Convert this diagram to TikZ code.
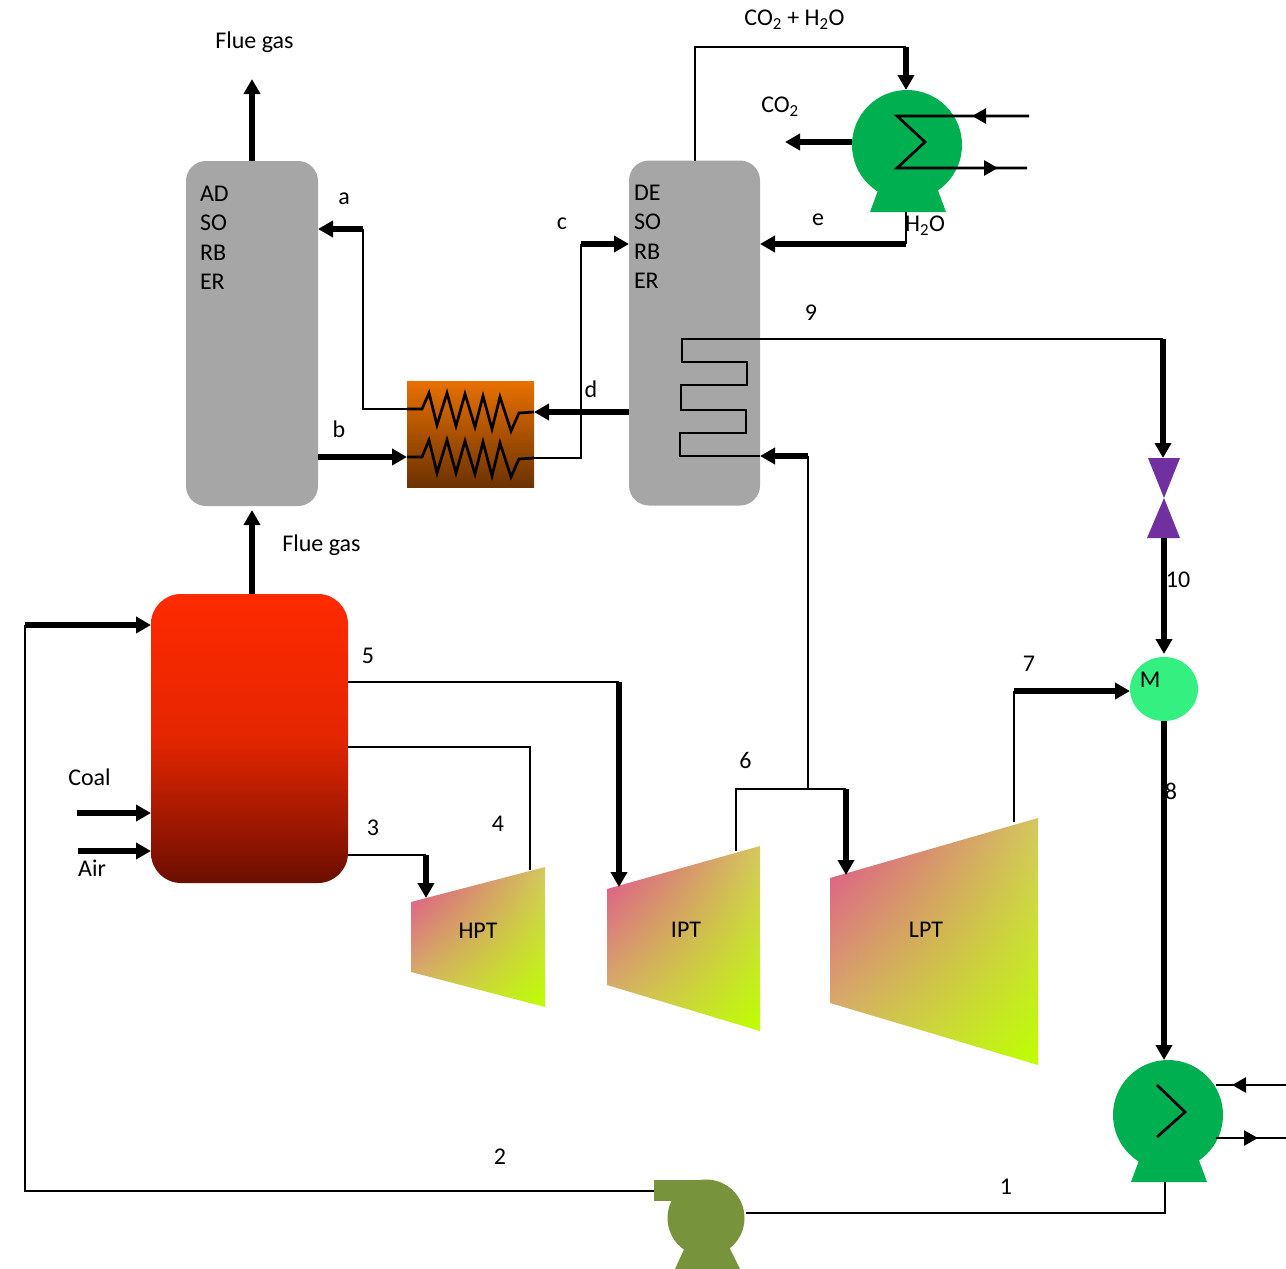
\documentclass[tikz,border=0pt]{standalone}
\usepackage{fontspec}
\setmainfont{Carlito}
\usepackage{xcolor}
\usetikzlibrary{shapes.geometric, arrows.meta, positioning, shadings}
\definecolor{vessel}{RGB}{166,166,166}
\definecolor{exgreen}{RGB}{0,176,80}
\definecolor{pumpolive}{RGB}{119,147,60}
\definecolor{valvepurple}{RGB}{112,48,160}
\definecolor{mixgreen}{RGB}{51,240,128}
\definecolor{firered}{RGB}{255,42,0}
\definecolor{firemid}{RGB}{228,38,0}
\definecolor{firedark}{RGB}{108,14,0}
\definecolor{hxtop}{RGB}{232,112,0}
\definecolor{hxbot}{RGB}{108,50,0}
\definecolor{tpink}{RGB}{224,72,145}
\definecolor{tmid}{RGB}{212,200,95}
\definecolor{tlime}{RGB}{190,255,0}
\tikzset{
    vesselbox/.style={rectangle, rounded corners=20pt, minimum width=132pt, minimum height=345pt, inner sep=0pt, outer sep=0pt, fill=vessel},
    lbl/.style={inner sep=0pt, outer sep=0pt, font=\fontsize{24}{29.5}\selectfont, align=left},
    flow/.style={line width=2.7pt},
    main/.style={-{Triangle[length=15pt,width=16pt]}, line width=5.4pt},
    tip/.style={-{Triangle[length=14pt,width=15pt]}, line width=2.7pt},
    coil/.style={line width=2.7pt, line join=miter},
    turbine/.style={upper left=tpink, lower right=tlime, upper right=tmid, lower left=tmid}
}
\begin{document}
\begin{tikzpicture}[x=1pt,y=-1pt]
    \useasboundingbox (0,0) rectangle (1286,1269);
    % Vessels
    \node[vesselbox] (adsorber) at (252,333.5) {};
    \node[vesselbox, minimum width=131pt] (desorber) at (694.5,333) {};
    \node[lbl, anchor=north west] (adlabel) at (200,186) {AD\\SO\\RB\\ER};
    \node[lbl, anchor=north west] (delabel) at (634,185) {DE\\SO\\RB\\ER};
    % Boiler
    \node[rectangle, rounded corners=30pt, minimum width=197pt, minimum height=289pt, inner sep=0pt, outer sep=0pt, top color=firered, bottom color=firedark, middle color=firemid] (boiler) at (249.5,738.5) {};
    % Heat exchanger
    \node[rectangle, minimum width=127pt, minimum height=106pt, inner sep=0pt, outer sep=0pt, top color=hxtop, bottom color=hxbot] (hx) at (470.5,434) {};
    \draw[coil] (407,409) -- (422,409) -- (429,393) -- (437,425) -- (447,393) -- (456,426) -- (465,394) -- (475,427) -- (483,396) -- (492,429) -- (500,397) -- (511,431) -- (519,413) -- (534,412);
    \draw[coil] (407,457) -- (422,457) -- (429,440) -- (437,473) -- (447,440) -- (456,473) -- (465,441) -- (475,474) -- (483,442) -- (492,476) -- (500,443) -- (511,477) -- (519,459) -- (534,458);
    % Turbines
    \shade[turbine] (411,902) -- (545,867) -- (545,1007) -- (411,972) -- cycle;
    \shade[turbine] (607,889) -- (760,846) -- (760,1031) -- (607,985) -- cycle;
    \shade[turbine] (830,878) -- (1038,818) -- (1038,1065) -- (830,1003) -- cycle;
    \node[lbl] (hpt) at (478,931) {HPT};
    \node[lbl] (ipt) at (686,930) {IPT};
    \node[lbl] (lpt) at (926,930) {LPT};
    % Condenser
    \fill[exgreen] (880,185) -- (870,212) -- (946,212) -- (936,185) -- cycle;
    \node[circle, minimum size=110pt, inner sep=0pt, outer sep=0pt, fill=exgreen] (condenser) at (907,145) {};
    % Feed heater
    \fill[exgreen] (1141,1155) -- (1131,1182) -- (1207,1182) -- (1197,1155) -- cycle;
    \node[circle, minimum size=110pt, inner sep=0pt, outer sep=0pt, fill=exgreen] (heater) at (1168,1115) {};
    % Pump
    \fill[pumpolive] (686,1245) -- (675,1269) -- (740,1269) -- (728,1245) -- cycle;
    \node[circle, minimum size=77pt, inner sep=0pt, outer sep=0pt, fill=pumpolive] (pump) at (706,1218) {};
    \fill[pumpolive] (654,1180) rectangle (706,1201);
    % Valve
    \fill[valvepurple] (1148,458) -- (1180,458) -- (1164,498) -- (1180,538) -- (1147,538) -- (1164,498) -- cycle;
    % Mixer
    \node[ellipse, minimum width=68pt, minimum height=64pt, inner sep=0pt, outer sep=0pt, fill=mixgreen] (mixer) at (1164,689) {};

    % Points on the pipes
    \coordinate (fluetop) at (252,79);
    \coordinate (adin) at (252,510);
    \coordinate (aturn) at (363,229);
    \coordinate (ahx) at (363,409);
    \coordinate (bhx) at (407,457);
    \coordinate (chx) at (581,458);
    \coordinate (cturn) at (581,244);
    \coordinate (dhx) at (534,412);
    \coordinate (co2over) at (695,47);
    \coordinate (co2turn) at (906,47);
    \coordinate (co2in) at (906,90);
    \coordinate (co2out) at (785,142);
    \coordinate (eturn) at (906,244);
    \coordinate (efoot) at (906,212);
    \coordinate (cwin) at (1029,116);
    \coordinate (cwinmid) at (972,116);
    \coordinate (cwa) at (897,116);
    \coordinate (cwb) at (925,142);
    \coordinate (cwc) at (897,168);
    \coordinate (cwoutmid) at (998,168);
    \coordinate (cwout) at (1027,168);
    \coordinate (s9) at (1163,339);
    \coordinate (valvetop) at (1163,458);
    \coordinate (valvebot) at (1164,538);
    \coordinate (mixin) at (1164,654);
    \coordinate (heatin) at (1164,1060);
    \coordinate (s6) at (808,789);
    \coordinate (s6in) at (808,456);
    \coordinate (s6a) at (736,851);
    \coordinate (s6b) at (736,789);
    \coordinate (s6c) at (846,789);
    \coordinate (s6d) at (846,875);
    \coordinate (s7a) at (1014,822);
    \coordinate (s7b) at (1014,691);
    \coordinate (s5a) at (619,682);
    \coordinate (s5b) at (619,887);
    \coordinate (s4a) at (530,747);
    \coordinate (s4b) at (530,870);
    \coordinate (s3a) at (426,855);
    \coordinate (s3b) at (426,898);
    \coordinate (coalin) at (77,813);
    \coordinate (airin) at (78,851);
    \coordinate (s2a) at (654,1191);
    \coordinate (s2b) at (25,1191);
    \coordinate (s2c) at (25,625);
    \coordinate (s1a) at (1165,1182);
    \coordinate (s1b) at (1165,1213);
    \coordinate (s1c) at (746,1213);
    \coordinate (fwin) at (1286,1085);
    \coordinate (fwinmid) at (1232,1085);
    \coordinate (fwstart) at (1216,1085);
    \coordinate (fwa) at (1216,1138);
    \coordinate (fwoutmid) at (1258,1138);
    \coordinate (fwout) at (1286,1138);
    \coordinate (cha) at (1157,1085);
    \coordinate (chb) at (1185,1112);
    \coordinate (chc) at (1157,1137);

    % Flows
    \draw[main] (adsorber.north) -- (fluetop);
    \draw[main] (boiler.north -| adin) -- (adin);
    \draw[flow] (hx.west |- ahx) -- (ahx) -- (aturn);
    \draw[main] (aturn) -- (adsorber.east |- aturn);
    \draw[main] (adsorber.east |- bhx) -- (bhx);
    \draw[flow] (hx.east |- chx) -- (chx) -- (cturn);
    \draw[main] (cturn) -- (desorber.west |- cturn);
    \draw[main] (desorber.west |- dhx) -- (dhx);
    \draw[flow] (desorber.north -| co2over) -- (co2over) -- (co2turn);
    \draw[main] (co2turn) -- (co2in);
    \draw[main] (condenser.west |- co2out) -- (co2out);
    \draw[flow] (efoot) -- (eturn);
    \draw[main] (eturn) -- (desorber.east |- eturn);
    \draw[coil] (cwin) -- (cwa) -- (cwb) -- (cwc) -- (cwout);
    \draw[tip] (cwin) -- (cwinmid);
    \draw[tip] (cwc) -- (cwoutmid);
    % Coil in the desorber
    \draw[coil] (s9) -- (682,339) -- (682,362) -- (747,362) -- (747,385) -- (681,385) -- (681,410) -- (746,410) -- (746,433) -- (680,433) -- (680,456) -- (desorber.east |- s6in);
    \draw[main] (s9) -- (valvetop);
    \draw[main] (valvebot) -- (mixin);
    \draw[main] (mixer.south) -- (heatin);
    \draw[flow] (s6) -- (s6in);
    \draw[main] (s6in) -- (desorber.east |- s6in);
    \draw[flow] (s6a) -- (s6b) -- (s6c);
    \draw[main] (s6c) -- (s6d);
    \draw[flow] (s7a) -- (s7b);
    \draw[main] (s7b) -- (mixer.west |- s7b);
    \draw[flow] (boiler.east |- s5a) -- (s5a);
    \draw[main] (s5a) -- (s5b);
    \draw[flow] (boiler.east |- s4a) -- (s4a) -- (s4b);
    \draw[flow] (boiler.east |- s3a) -- (s3a);
    \draw[main] (s3a) -- (s3b);
    \draw[main] (coalin) -- (boiler.west |- coalin);
    \draw[main] (airin) -- (boiler.west |- airin);
    \draw[flow] (s2a) -- (s2b) -- (s2c);
    \draw[main] (s2c) -- (boiler.west |- s2c);
    \draw[flow] (s1a) -- (s1b) -- (s1c);
    \draw[flow] (fwstart) -- (fwin);
    \draw[tip] (fwin) -- (fwinmid);
    \draw[flow] (fwa) -- (fwout);
    \draw[tip] (fwa) -- (fwoutmid);
    \draw[coil] (cha) -- (chb) -- (chc);

    % Labels
    \node[lbl] (flue1) at (254.5,42) {Flue gas};
    \node[lbl] (flue2) at (321.5,545) {Flue gas};
    \node[lbl] (co2h2o) at (794.5,20) {CO\textsubscript{2} + H\textsubscript{2}O};
    \node[lbl] (co2) at (780,107) {CO\textsubscript{2}};
    \node[lbl] (h2o) at (925,226) {H\textsubscript{2}O};
    \node[lbl] (la) at (344,199) {a};
    \node[lbl] (lb) at (339,429) {b};
    \node[lbl] (lc) at (562,224) {c};
    \node[lbl] (ld) at (591,389) {d};
    \node[lbl] (le) at (818,220) {e};
    \node[lbl] (coal) at (89.5,777) {Coal};
    \node[lbl] (air) at (92,868) {Air};
    \node[lbl] (n1) at (1006,1187) {1};
    \node[lbl] (n2) at (500,1157) {2};
    \node[lbl] (n3) at (373,828) {3};
    \node[lbl] (n4) at (498,824) {4};
    \node[lbl] (n5) at (368,656) {5};
    \node[lbl] (n6) at (745.5,760) {6};
    \node[lbl] (n7) at (1029,664) {7};
    \node[lbl] (n8) at (1171,791) {8};
    \node[lbl] (n9) at (811,313) {9};
    \node[lbl] (n10) at (1178,580) {10};
    \node[lbl] (mlabel) at (1150,680) {M};
\end{tikzpicture}
\end{document}
